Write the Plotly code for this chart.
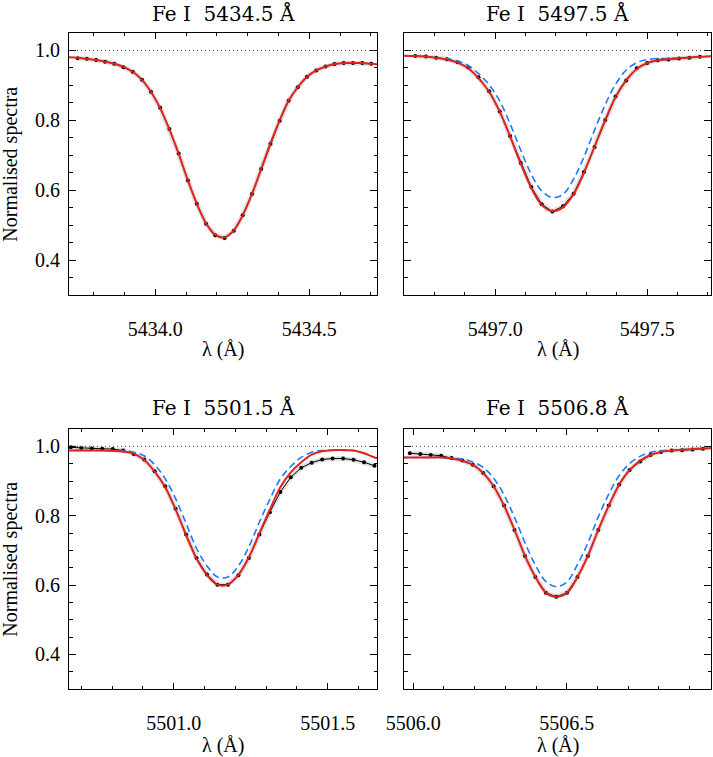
import plotly.graph_objects as go
from plotly.subplots import make_subplots

# --- Fe I 5434.5 ---
wl_5434 = [5433.748, 5433.778, 5433.808, 5433.837, 5433.867, 5433.897, 5433.927, 5433.957,
           5433.986, 5434.016, 5434.046, 5434.076, 5434.106, 5434.135, 5434.165, 5434.195,
           5434.225, 5434.255, 5434.284, 5434.314, 5434.344, 5434.374, 5434.404, 5434.433,
           5434.463, 5434.493, 5434.523, 5434.553, 5434.582, 5434.612, 5434.642, 5434.672, 5434.702]
obs_5434 = [0.978, 0.976, 0.973, 0.968, 0.962, 0.952, 0.939, 0.916, 0.882, 0.836, 0.775, 0.705,
            0.628, 0.561, 0.504, 0.471, 0.463, 0.484, 0.528, 0.589, 0.661, 0.733, 0.799, 0.856,
            0.895, 0.925, 0.943, 0.954, 0.961, 0.964, 0.964, 0.964, 0.962]
mwl_5434 = [5433.718] + wl_5434 + [5434.732]
fit_5434 = [0.981, 0.979, 0.976, 0.973, 0.968, 0.962, 0.953, 0.939, 0.916, 0.882, 0.835, 0.774,
            0.704, 0.628, 0.561, 0.505, 0.472, 0.465, 0.485, 0.528, 0.589, 0.661, 0.734, 0.800,
            0.856, 0.895, 0.925, 0.943, 0.954, 0.961, 0.964, 0.965, 0.964, 0.962, 0.960]

# --- Fe I 5497.5 ---
wl_5497 = [5496.737, 5496.772, 5496.806, 5496.841, 5496.876, 5496.911, 5496.945, 5496.980,
           5497.015, 5497.049, 5497.084, 5497.119, 5497.153, 5497.188, 5497.223, 5497.258,
           5497.292, 5497.327, 5497.362, 5497.396, 5497.431, 5497.466, 5497.500, 5497.535,
           5497.570, 5497.605, 5497.639, 5497.674]
obs_5497 = [0.984, 0.983, 0.979, 0.975, 0.966, 0.951, 0.923, 0.883, 0.825, 0.755, 0.678, 0.609,
            0.560, 0.539, 0.554, 0.590, 0.652, 0.724, 0.801, 0.868, 0.914, 0.949, 0.964, 0.972,
            0.974, 0.977, 0.979, 0.982]
mwl_5497 = [5496.690] + wl_5497 + [5497.720]
fit_5497 = [0.985, 0.984, 0.982, 0.979, 0.974, 0.965, 0.949, 0.921, 0.882, 0.825, 0.754, 0.676,
            0.606, 0.558, 0.540, 0.551, 0.589, 0.650, 0.725, 0.801, 0.867, 0.915, 0.947, 0.964,
            0.972, 0.975, 0.978, 0.980, 0.982, 0.984]
alt_5497 = [0.985, 0.984, 0.983, 0.980, 0.976, 0.970, 0.957, 0.934, 0.902, 0.855, 0.790, 0.715,
            0.645, 0.598, 0.579, 0.588, 0.632, 0.695, 0.772, 0.845, 0.903, 0.944, 0.965, 0.974,
            0.977, 0.977, 0.978, 0.980, 0.982, 0.984]

# --- Fe I 5501.5 ---
wl_5501 = [5500.666, 5500.700, 5500.734, 5500.768, 5500.802, 5500.836, 5500.870, 5500.904,
           5500.938, 5500.972, 5501.006, 5501.040, 5501.074, 5501.108, 5501.142, 5501.176,
           5501.210, 5501.244, 5501.278, 5501.312, 5501.346, 5501.380, 5501.414, 5501.448,
           5501.482, 5501.516, 5501.550, 5501.584, 5501.618, 5501.652]
obs_5501 = [0.997, 0.995, 0.994, 0.993, 0.992, 0.988, 0.978, 0.962, 0.928, 0.885, 0.820, 0.746,
            0.678, 0.630, 0.601, 0.601, 0.628, 0.678, 0.746, 0.810, 0.868, 0.911, 0.938, 0.953,
            0.962, 0.965, 0.965, 0.961, 0.954, 0.944]
mwl_5501 = [5500.640] + wl_5501 + [5501.670]
fit_5501 = [0.988, 0.988, 0.988, 0.988, 0.988, 0.987, 0.985, 0.979, 0.961, 0.927, 0.883, 0.818,
            0.744, 0.676, 0.629, 0.601, 0.601, 0.629, 0.680, 0.749, 0.817, 0.882, 0.925, 0.954,
            0.976, 0.986, 0.989, 0.989, 0.988, 0.980, 0.968, 0.965]
alt_5501 = [0.988, 0.988, 0.988, 0.988, 0.988, 0.988, 0.987, 0.983, 0.973, 0.947, 0.907, 0.849,
            0.778, 0.706, 0.655, 0.623, 0.623, 0.655, 0.710, 0.781, 0.847, 0.906, 0.942, 0.968,
            0.983, 0.988, 0.989, 0.989, 0.988, 0.980, 0.968, 0.965]

# --- Fe I 5506.8 ---
wl_5506 = [5505.989, 5506.023, 5506.057, 5506.091, 5506.125, 5506.160, 5506.194, 5506.228,
           5506.262, 5506.296, 5506.330, 5506.364, 5506.398, 5506.432, 5506.466, 5506.501,
           5506.535, 5506.569, 5506.603, 5506.637, 5506.671, 5506.705, 5506.739, 5506.773,
           5506.807, 5506.842, 5506.876, 5506.910, 5506.944]
obs_5506 = [0.980, 0.978, 0.975, 0.973, 0.966, 0.959, 0.947, 0.923, 0.885, 0.829, 0.759, 0.684,
            0.623, 0.578, 0.566, 0.578, 0.623, 0.684, 0.759, 0.829, 0.890, 0.932, 0.956, 0.975,
            0.984, 0.988, 0.989, 0.991, 0.993]
mwl_5506 = [5505.960] + wl_5506 + [5506.980]
fit_5506 = [0.968, 0.968, 0.968, 0.968, 0.968, 0.965, 0.958, 0.947, 0.923, 0.885, 0.829, 0.759,
            0.684, 0.623, 0.578, 0.566, 0.578, 0.623, 0.684, 0.759, 0.829, 0.890, 0.932, 0.958,
            0.975, 0.984, 0.988, 0.990, 0.992, 0.994, 0.995]
alt_5506 = [0.968, 0.968, 0.968, 0.968, 0.968, 0.966, 0.963, 0.955, 0.939, 0.908, 0.860, 0.795,
            0.722, 0.657, 0.610, 0.595, 0.609, 0.659, 0.721, 0.797, 0.862, 0.916, 0.950, 0.971,
            0.983, 0.987, 0.988, 0.990, 0.992, 0.994, 0.995]

titles = ["Fe I\u00a0\u00a05434.5 Å", "Fe I\u00a0\u00a05497.5 Å",
          "Fe I\u00a0\u00a05501.5 Å", "Fe I\u00a0\u00a05506.8 Å"]
xranges = [[5433.72, 5434.72], [5496.70, 5497.71], [5500.66, 5501.66], [5505.97, 5506.97]]

panels = [
    (wl_5434, obs_5434, mwl_5434, fit_5434, None),
    (wl_5497, obs_5497, mwl_5497, fit_5497, alt_5497),
    (wl_5501, obs_5501, mwl_5501, fit_5501, alt_5501),
    (wl_5506, obs_5506, mwl_5506, fit_5506, alt_5506),
]

FONT = "Liberation Serif, Times New Roman, serif"
TFONT = "DejaVu Serif, serif"
W, H = 713, 757

fig = make_subplots(rows=2, cols=2)

for k, (wl, obs, mwl, fit, alt) in enumerate(panels):
    r, c = k // 2 + 1, k % 2 + 1
    # grey uncertainty band under the observed profile
    fig.add_trace(go.Scatter(x=wl, y=obs, mode="lines",
                             line=dict(color="rgba(140,140,140,0.25)", width=5),
                             hoverinfo="skip"), row=r, col=c)
    fig.add_trace(go.Scatter(x=wl, y=obs, mode="lines+markers",
                             line=dict(color="black", width=1),
                             marker=dict(color="black", size=4)), row=r, col=c)
    if alt is not None:
        fig.add_trace(go.Scatter(x=mwl, y=alt, mode="lines",
                                 line=dict(color="#1f78ff", width=1.6, dash="7px,4px",
                                           shape="spline")),
                      row=r, col=c)
    fig.add_trace(go.Scatter(x=mwl, y=fit, mode="lines",
                             line=dict(color="#e2231e", width=2, shape="spline")), row=r, col=c)
    fig.add_hline(y=1.0, line=dict(color="#444444", width=1, dash="1px,3px"), row=r, col=c)

    fig.update_xaxes(range=xranges[k], dtick=0.5, tick0=0, tickformat=".1f",
                     ticks="inside", ticklen=6, tickwidth=1, tickcolor="black",
                     minor=dict(ticks="inside", ticklen=3, dtick=0.1, tickcolor="black"),
                     showline=True, linecolor="black", linewidth=1, mirror="ticks",
                     showgrid=False, zeroline=False, ticklabelstandoff=16, automargin=False,
                     tickfont=dict(family=FONT, size=20, color="black"), row=r, col=c)
    fig.update_yaxes(range=[0.3, 1.05], dtick=0.2, tick0=0, tickformat=".1f",
                     ticks="inside", ticklen=7, tickwidth=1, tickcolor="black",
                     minor=dict(ticks="inside", ticklen=3.5, dtick=0.05, tickcolor="black"),
                     showline=True, linecolor="black", linewidth=1, mirror="ticks",
                     showgrid=False, zeroline=False, showticklabels=(c == 1),
                     ticklabelstandoff=4, automargin=False,
                     tickfont=dict(family=FONT, size=20, color="black"), row=r, col=c)

# panel placement (pixels -> paper)
xd = [[69 / W, 377 / W], [404 / W, 711 / W]]
yd = [[1 - 295 / H, 1 - 33 / H], [1 - 689 / H, 1 - 429 / H]]
fig.update_layout(
    xaxis=dict(domain=xd[0]), xaxis2=dict(domain=xd[1]),
    xaxis3=dict(domain=xd[0]), xaxis4=dict(domain=xd[1]),
    yaxis=dict(domain=yd[0]), yaxis2=dict(domain=yd[0]),
    yaxis3=dict(domain=yd[1]), yaxis4=dict(domain=yd[1]),
)

ann = []
title_y = [1 - 14 / H, 1 - 407 / H]
lam_y = [1 - 350 / H, 1 - 745 / H]
for k in range(4):
    r, c = k // 2, k % 2
    xc = (xd[c][0] + xd[c][1]) / 2
    ann.append(dict(text=titles[k], x=xc, y=title_y[r], xref="paper", yref="paper",
                    showarrow=False, xanchor="center", yanchor="middle",
                    font=dict(family=TFONT, size=20, color="black")))
    ann.append(dict(text="λ (Å)", x=xc, y=lam_y[r], xref="paper", yref="paper",
                    showarrow=False, xanchor="center", yanchor="middle",
                    font=dict(family=FONT, size=20, color="black")))
for r in range(2):
    ann.append(dict(text="Normalised spectra", x=9.7 / W, y=(yd[r][0] + yd[r][1]) / 2,
                    xref="paper", yref="paper", showarrow=False, textangle=-90,
                    xanchor="center", yanchor="middle",
                    font=dict(family=FONT, size=20, color="black")))

fig.update_layout(
    width=W, height=H,
    margin=dict(l=0, r=0, t=0, b=0),
    paper_bgcolor="white", plot_bgcolor="white",
    showlegend=False,
    annotations=ann,
)

# drop the browser's default body margin so the figure fills the window
fig.write_html("out.html", config={"displayModeBar": False},
               post_script="document.body.style.margin = '0';")
